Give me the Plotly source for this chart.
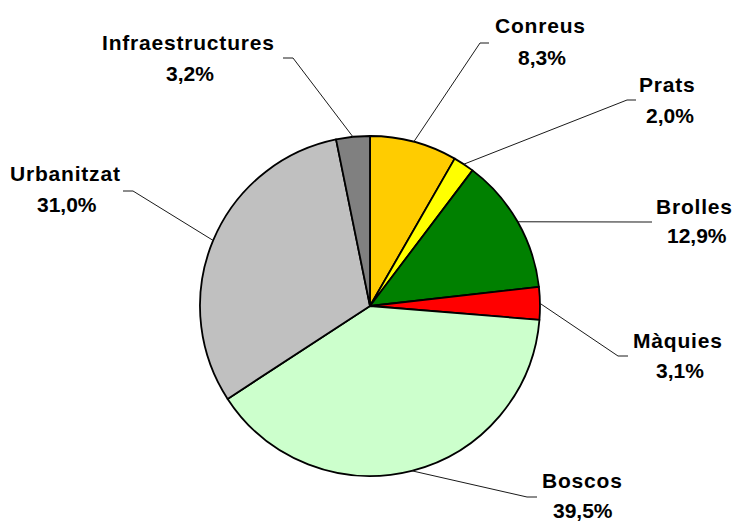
import math
import plotly.graph_objects as go

# ---- data ----
categories = ["Conreus", "Prats", "Brolles", "Màquies", "Boscos", "Urbanitzat", "Infraestructures"]
values = [8.3, 2.0, 12.9, 3.1, 39.5, 31.0, 3.2]
colors = ["#FFCC00", "#FFFF00", "#008000", "#FF0000", "#CCFFCC", "#C0C0C0", "#808080"]

# ---- layout (pixel positions in a 735x521 canvas) ----
W, H = 735, 521
CX, CY, R = 370, 306, 170
# label name centre, pct centre, leader elbow, leader end
label_layout = {
    "Conreus":          ((540, 25), (542, 57), (480, 43), (489, 43)),
    "Prats":            ((667, 84), (670, 115), (627, 100), (636, 100)),
    "Brolles":          ((694, 206), (697, 235), (642, 222), (652, 222)),
    "Màquies":          ((678, 340), (680, 370), (618, 356), (628, 356)),
    "Boscos":           ((582, 480), (583, 510), (527, 497), (537, 497)),
    "Urbanitzat":       ((65, 173), (67, 204), (133, 191), (123, 191)),
    "Infraestructures": ((188, 43), (190, 73), (293, 58), (283, 58)),
}

def px(x):
    return x / W

def py(y):
    return 1 - y / H

fig = go.Figure(go.Pie(
    labels=categories,
    values=values,
    sort=False,
    direction="clockwise",
    rotation=0,
    marker=dict(colors=colors, line=dict(color="black", width=1.8)),
    textinfo="none",
    hoverinfo="label+percent",
    domain=dict(x=[px(CX - R), px(CX + R)], y=[py(CY + R), py(CY - R)]),
    showlegend=False,
))

total = sum(values)
cum = 0.0
shapes = []
annotations = []
font = dict(family="Arial, Liberation Sans, sans-serif", size=21, color="black")
for name, v in zip(categories, values):
    mid = (cum + v / 2) / total * 2 * math.pi
    cum += v
    sx = CX + R * math.sin(mid)
    sy = CY - R * math.cos(mid)
    (nx, ny), (qx, qy), (ex, ey), (fx, fy) = label_layout[name]
    path = f"M {px(sx)},{py(sy)} L {px(ex)},{py(ey)} L {px(fx)},{py(fy)}"
    shapes.append(dict(type="path", path=path, xref="paper", yref="paper",
                       line=dict(color="#1a1a1a", width=1)))
    pct = f"{v:.1f}".replace(".", ",") + "%"
    annotations.append(dict(x=px(nx), y=py(ny), xref="paper", yref="paper",
                            text=f'<b><span style="letter-spacing:0.8px">{name}</span></b>',
                            showarrow=False, font=font,
                            xanchor="center", yanchor="middle"))
    annotations.append(dict(x=px(qx), y=py(qy), xref="paper", yref="paper",
                            text=f"<b>{pct}</b>", showarrow=False, font=font,
                            xanchor="center", yanchor="middle"))

fig.update_layout(
    width=W, height=H,
    margin=dict(l=0, r=0, t=0, b=0),
    paper_bgcolor="white", plot_bgcolor="white",
    shapes=shapes, annotations=annotations,
)

fig.write_html("out.html",
               config={"displayModeBar": False},
               post_script="document.body.style.margin='0';document.body.style.overflow='hidden';")
